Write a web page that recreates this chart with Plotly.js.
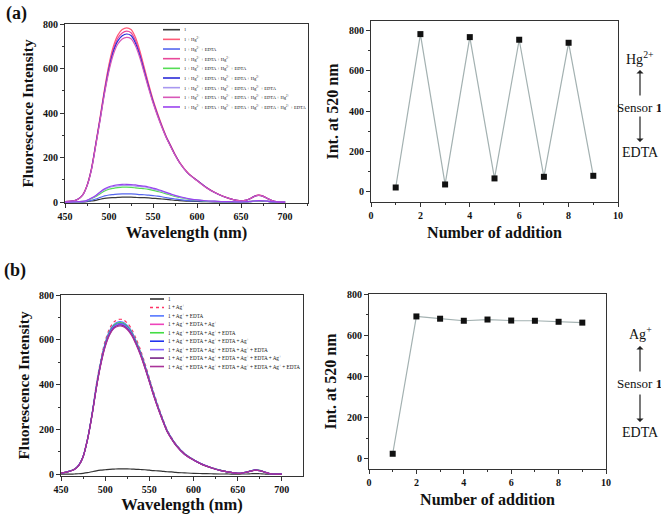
<!DOCTYPE html>
<html>
<head>
<meta charset="utf-8">
<script src="https://cdn.plot.ly/plotly-3.0.1.min.js"></script>
<style>html,body{margin:0;padding:0;background:#fff}#chart{width:661px;height:514px}</style>
</head>
<body>
<div id="chart"></div>
<script>
// ---------- DATA ----------
const wavelength = [450,455,460,465,470,475,480,485,490,495,500,505,510,515,520,525,530,535,540,545,550,555,560,565,570,575,580,590,600,610,620,630,640,645,650,655,660,665,670,675,680,685,690,700];

// (a) Hg2+/EDTA cycling spectra
const hgS1 = [0,0,0,1,1,2,5,8,13,17,19,20,21,22,22,22,21,20,20,19,17,16,14,12,10,8,7,4,3,2,1,1,0,0,0,1,2,4,5,4,3,1,0,0];
const hgS2 = [2,3,6,14,32,75,150,265,385,510,620,700,750,775,783,775,740,680,605,530,460,400,345,295,255,215,180,130,98,68,44,26,12,8,6,8,15,26,31,27,16,7,2,0];
const hgS3 = [0,0,0,1,1,4,8,14,21,28,32,34,36,37,37,37,36,34,33,31,29,27,24,20,17,14,11,7,5,3,2,1,1,0,0,1,2,4,6,5,3,1,0,0];
const hgS4 = [2,3,6,14,32,74,148,262,380,503,610,688,736,760,768,761,727,669,596,523,455,396,342,293,253,213,179,129,97,67,43,25,12,8,6,8,15,26,31,27,16,7,2,0];
const hgS5 = [0,0,1,2,3,7,15,25,38,50,58,62,65,67,67,66,64,62,60,57,53,48,43,37,31,25,21,13,9,5,3,2,1,1,1,2,3,5,7,6,4,2,1,0];
const hgS6 = [2,3,6,14,31,73,146,259,375,496,600,677,724,747,755,748,715,659,588,517,450,392,339,291,251,212,178,128,97,67,43,25,12,8,6,8,15,26,30,26,16,7,2,0];
const hgS7 = [0,0,1,2,3,8,17,29,43,56,65,70,73,75,75,74,72,70,68,64,59,54,48,41,35,29,23,15,10,6,4,2,2,1,1,2,3,5,7,6,4,2,1,0];
const hgS8 = [2,3,6,13,31,72,144,255,370,489,590,664,710,733,740,734,702,648,579,510,445,388,336,289,249,211,177,128,96,66,43,25,12,8,6,8,15,25,30,26,16,7,2,0];
const hgS9 = [0,0,1,2,3,8,18,30,46,60,69,74,78,80,80,79,77,74,72,68,63,58,51,44,37,30,25,16,10,6,4,2,2,1,1,2,3,5,7,6,4,2,1,0];

// (b) Ag+/EDTA cycling spectra
const agS1 = [0,0,0,1,2,4,7,11,15,18,20,22,23,24,24,24,23,22,21,20,18,16,15,13,11,10,8,6,4,3,2,1,1,0,0,1,1,2,3,2,1,0,0,0];
const agS2 = [5,8,14,22,40,80,160,270,400,510,595,650,680,691,690,675,648,605,555,495,430,365,305,250,200,165,135,92,66,45,30,18,9,6,4,5,9,15,19,17,10,4,1,0];
const agS3 = [5,8,14,22,39,79,157,266,394,502,585,640,669,680,679,664,638,595,546,487,423,359,300,246,197,162,133,91,65,44,30,18,9,6,4,5,9,15,19,17,10,4,1,0];
const agS4 = [5,8,14,21,39,78,155,262,388,495,577,631,660,670,669,655,629,587,538,480,417,354,296,243,194,160,131,89,64,44,29,17,9,6,4,5,9,15,18,16,10,4,1,0];
const agS5 = [5,8,14,22,39,78,156,264,391,499,582,636,665,676,675,660,634,592,543,484,421,357,298,245,196,161,132,90,65,44,29,18,9,6,4,5,9,15,18,17,10,4,1,0];
const agS6 = [5,8,14,21,39,78,155,262,388,495,578,631,661,671,670,655,629,587,539,481,418,354,296,243,194,160,131,89,64,44,29,17,9,6,4,5,9,15,18,16,10,4,1,0];
const agS7 = [5,8,14,21,39,78,155,262,388,495,577,630,660,670,669,654,628,587,538,480,417,354,296,243,194,160,131,89,64,44,29,17,9,6,4,5,9,15,18,16,10,4,1,0];
const agS8 = [5,8,13,21,38,77,154,260,385,491,572,625,654,665,664,649,623,582,534,476,414,351,293,241,192,159,130,89,63,43,29,17,9,6,4,5,9,14,18,16,10,4,1,0];
const agS9 = [5,8,13,21,38,77,153,258,383,488,569,622,651,661,660,646,620,579,531,474,412,349,292,239,191,158,129,88,63,43,29,17,9,6,4,5,9,14,18,16,10,4,1,0];

// Intensity at 520 nm vs. number of addition
const additionNumber = [1,2,3,4,5,6,7,8,9];
const hgInt520 = [22,783,37,768,67,755,75,740,80];
const agInt520 = [24,691,680,670,676,671,670,665,661];

// Legend labels
const hgLabels = [
  "1",
  "1 + Hg<sup>2+</sup>",
  "1 + Hg<sup>2+</sup> + EDTA",
  "1 + Hg<sup>2+</sup> + EDTA + Hg<sup>2+</sup>",
  "1 + Hg<sup>2+</sup> + EDTA + Hg<sup>2+</sup> + EDTA",
  "1 + Hg<sup>2+</sup> + EDTA + Hg<sup>2+</sup> + EDTA + Hg<sup>2+</sup>",
  "1 + Hg<sup>2+</sup> + EDTA + Hg<sup>2+</sup> + EDTA + Hg<sup>2+</sup> + EDTA",
  "1 + Hg<sup>2+</sup> + EDTA + Hg<sup>2+</sup> + EDTA + Hg<sup>2+</sup> + EDTA + Hg<sup>2+</sup>",
  "1 + Hg<sup>2+</sup> + EDTA + Hg<sup>2+</sup> + EDTA + Hg<sup>2+</sup> + EDTA + Hg<sup>2+</sup> + EDTA"
];
const agLabels = [
  "1",
  "1 + Ag<sup>+</sup>",
  "1 + Ag<sup>+</sup> + EDTA",
  "1 + Ag<sup>+</sup> + EDTA + Ag<sup>+</sup>",
  "1 + Ag<sup>+</sup> + EDTA + Ag<sup>+</sup> + EDTA",
  "1 + Ag<sup>+</sup> + EDTA + Ag<sup>+</sup> + EDTA + Ag<sup>+</sup>",
  "1 + Ag<sup>+</sup> + EDTA + Ag<sup>+</sup> + EDTA + Ag<sup>+</sup> + EDTA",
  "1 + Ag<sup>+</sup> + EDTA + Ag<sup>+</sup> + EDTA + Ag<sup>+</sup> + EDTA + Ag<sup>+</sup>",
  "1 + Ag<sup>+</sup> + EDTA + Ag<sup>+</sup> + EDTA + Ag<sup>+</sup> + EDTA + Ag<sup>+</sup> + EDTA"
];

// ---------- STYLE ----------
const W = 661, H = 514;
const px = x => x / W;
const py = y => 1 - y / H;
const SERIF = "Liberation Serif";
const hgColors = ['#3a3a3a','#ff5a78','#5566ee','#e8489a','#55dd55','#2b2bd8','#a898f0','#d858b8','#9a44ee'];
const agColors = ['#333333','#ff3366','#5577ff','#ee44bb','#44dd44','#2233ee','#8866ff','#772288','#aa3399'];
const agDash = ['solid','dot','solid','solid','solid','solid','solid','solid','solid'];

const hgSpectra = [hgS1,hgS2,hgS3,hgS4,hgS5,hgS6,hgS7,hgS8,hgS9];
const agSpectra = [agS1,agS2,agS3,agS4,agS5,agS6,agS7,agS8,agS9];

const traces = [];
hgSpectra.forEach((s,i) => traces.push({
  type:'scatter', mode:'lines', x:wavelength, y:s, xaxis:'x', yaxis:'y',
  line:{color:hgColors[i], width:1.2, shape:'spline', smoothing:0.8}, name:hgLabels[i]
}));
agSpectra.forEach((s,i) => traces.push({
  type:'scatter', mode:'lines', x:wavelength, y:s, xaxis:'x3', yaxis:'y3',
  line:{color:agColors[i], width:1.2, shape:'spline', smoothing:0.8, dash:agDash[i]}, name:agLabels[i]
}));
traces.push({type:'scatter', mode:'lines+markers', x:additionNumber, y:hgInt520, xaxis:'x2', yaxis:'y2',
  line:{color:'#a3b1b1', width:1.2}, marker:{symbol:'square', size:6, color:'#111'}});
traces.push({type:'scatter', mode:'lines+markers', x:additionNumber, y:agInt520, xaxis:'x4', yaxis:'y4',
  line:{color:'#a3b1b1', width:1.2}, marker:{symbol:'square', size:6, color:'#111'}});

function axis(o) {
  return Object.assign({
    showline:true, linecolor:'#333', linewidth:1, mirror:true, zeroline:false, showgrid:false,
    ticks:'outside', ticklen:4, tickwidth:1, tickcolor:'#333',
    tickfont:{family:SERIF, size:10, color:'#111', weight:'bold'}
  }, o);
}
function ttl(text, size, standoff) {
  return {text:text, font:{family:SERIF, size:size, color:'#111', weight:'bold'}, standoff:standoff};
}

const layout = {
  width:W, height:H, margin:{l:0,r:0,t:0,b:0}, showlegend:false,
  paper_bgcolor:'#fff', plot_bgcolor:'#fff', font:{family:SERIF, color:'#111'},
  xaxis: axis({domain:[px(65),px(308)], range:[450,726], tick0:450, dtick:50, anchor:'y',
    minor:{dtick:25, ticks:'outside', ticklen:2, tickcolor:'#333'}, title:ttl('Wavelength (nm)',16.5,5)}),
  yaxis: axis({domain:[py(203),py(24)], range:[-4,800], tick0:0, dtick:200, anchor:'x',
    minor:{dtick:100, ticks:'outside', ticklen:2, tickcolor:'#333'}, title:ttl('Fluorescence Intensity',15.5,5)}),
  xaxis2: axis({domain:[px(371),px(618)], range:[0,10], tick0:0, dtick:2, anchor:'y2',
    minor:{dtick:1, ticks:'outside', ticklen:2, tickcolor:'#333'}, title:ttl('Number of addition',16,6)}),
  yaxis2: axis({domain:[py(202),py(21)], range:[-50,848], tick0:0, dtick:200, anchor:'x2',
    minor:{dtick:100, ticks:'outside', ticklen:2, tickcolor:'#333'}, title:ttl('Int. at 520 nm',16,6)}),
  xaxis3: axis({domain:[px(61),px(303)], range:[450,724], tick0:450, dtick:50, anchor:'y3',
    minor:{dtick:25, ticks:'outside', ticklen:2, tickcolor:'#333'}, title:ttl('Wavelength (nm)',16.5,5)}),
  yaxis3: axis({domain:[py(476),py(295)], range:[-8,800], tick0:0, dtick:200, anchor:'x3',
    minor:{dtick:100, ticks:'outside', ticklen:2, tickcolor:'#333'}, title:ttl('Fluorescence Intensity',15.5,5)}),
  xaxis4: axis({domain:[px(369),px(606)], range:[0,10], tick0:0, dtick:2, anchor:'y4',
    minor:{dtick:1, ticks:'outside', ticklen:2, tickcolor:'#333'}, title:ttl('Number of addition',16,6)}),
  yaxis4: axis({domain:[py(469),py(294)], range:[-50,800], tick0:0, dtick:200, anchor:'x4',
    minor:{dtick:100, ticks:'outside', ticklen:2, tickcolor:'#333'}, title:ttl('Int. at 520 nm',16,6)}),
  shapes:[], annotations:[]
};

// in-plot legends (drawn as line samples + text)
function addLegend(labels, colors, dashes, x0, x1, xt, y0, dy, fs) {
  labels.forEach((lab,i) => {
    const y = y0 + dy*i;
    layout.shapes.push({type:'line', xref:'paper', yref:'paper', x0:px(x0), x1:px(x1), y0:py(y), y1:py(y),
      line:{color:colors[i], width:1.6, dash:dashes ? dashes[i] : 'solid'}});
    layout.annotations.push({xref:'paper', yref:'paper', x:px(xt), y:py(y), xanchor:'left', yanchor:'middle',
      showarrow:false, text:lab, font:{family:SERIF, size:fs, color:'#111'}});
  });
}
addLegend(hgLabels, hgColors, null, 163, 180, 181.5, 29.7, 9.66, 4.5);
addLegend(agLabels, agColors, agDash, 150, 164, 165.5, 299, 8.44, 5.2);

// panel labels
layout.annotations.push({xref:'paper', yref:'paper', x:px(4), y:py(13), xanchor:'left', yanchor:'middle', showarrow:false,
  text:'(a)', font:{family:SERIF, size:18, color:'#111', weight:'bold'}});
layout.annotations.push({xref:'paper', yref:'paper', x:px(2), y:py(270), xanchor:'left', yanchor:'middle', showarrow:false,
  text:'(b)', font:{family:SERIF, size:18, color:'#111', weight:'bold'}});

// side schematic
function side(ion, yIon, yUpHead, yUpTail, ySensor, yDownTail, yDownHead, yEdta) {
  const xc = 640;
  const f = {family:SERIF, size:14, color:'#111'};
  const base = {xref:'paper', yref:'paper', xanchor:'center', yanchor:'middle', showarrow:false};
  layout.annotations.push(Object.assign({x:px(xc), y:py(yIon), text:ion, font:f}, base));
  layout.annotations.push(Object.assign({x:px(xc-1), y:py(ySensor), text:'Sensor <b>1</b>', font:{family:SERIF, size:13, color:'#111'}}, base));
  layout.annotations.push(Object.assign({x:px(xc), y:py(yEdta), text:'EDTA', font:f}, base));
  layout.annotations.push({xref:'paper', yref:'paper', x:px(xc), y:py(yUpHead), ax:0, ay:yUpTail-yUpHead, text:'',
    showarrow:true, arrowhead:1, arrowsize:1, arrowwidth:1.2, arrowcolor:'#222'});
  layout.annotations.push({xref:'paper', yref:'paper', x:px(xc), y:py(yDownHead), ax:0, ay:yDownTail-yDownHead, text:'',
    showarrow:true, arrowhead:1, arrowsize:1, arrowwidth:1.2, arrowcolor:'#222'});
}
side('Hg<sup>2+</sup>', 58, 70, 97, 107, 115, 142, 152);
side('Ag<sup>+</sup>', 333, 346, 373, 383, 393, 422, 432);

Plotly.newPlot('chart', traces, layout, {displayModeBar:false});
</script>
</body>
</html>
